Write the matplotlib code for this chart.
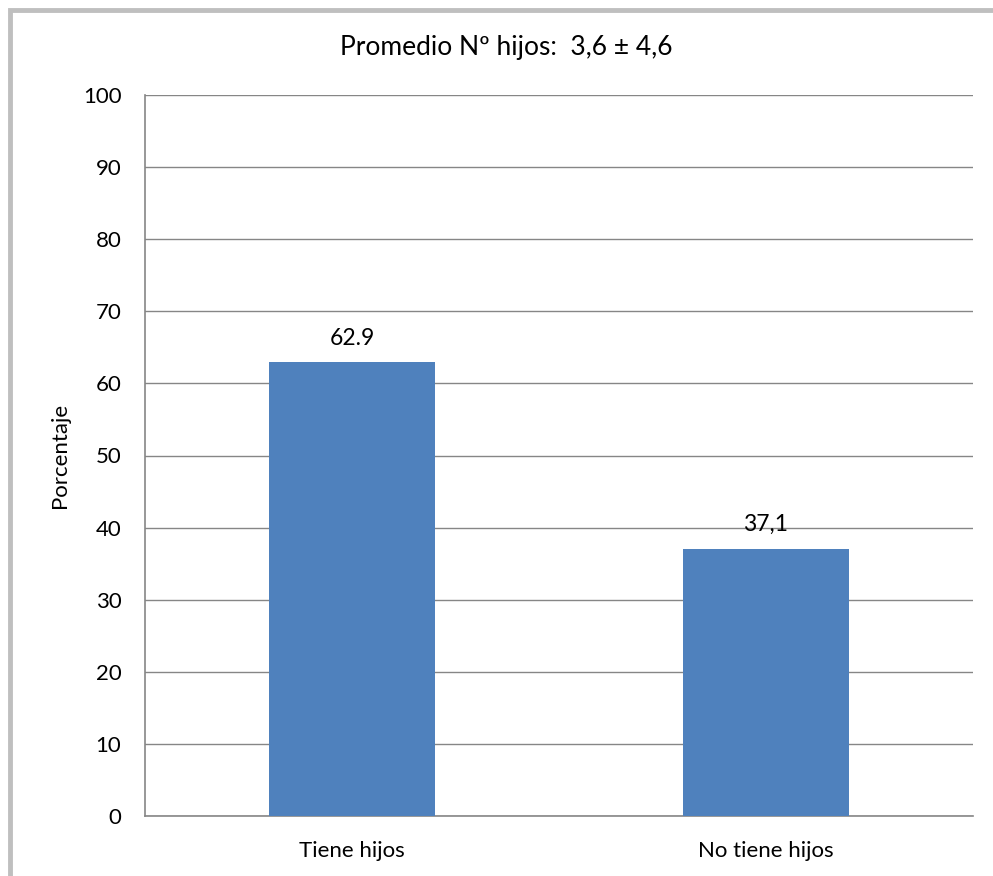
import matplotlib.pyplot as plt
from matplotlib.patches import Rectangle

categories = ["Tiene hijos", "No tiene hijos"]
percentages = [62.9, 37.1]
value_labels = ["62.9", "37,1"]
y_ticks = list(range(0, 101, 10))
title = "Promedio Nº hijos:  3,6 ± 4,6"

plt.rcParams['font.family'] = ['Lato', 'DejaVu Sans']

W, H = 993, 876
fig = plt.figure(figsize=(W / 100, H / 100), dpi=100)
ax = fig.add_axes([145 / W, 1 - 816 / H, (973 - 145) / W, (816 - 95) / H])

x = range(len(categories))
bars = ax.bar(x, percentages, width=0.4, color="#4F81BD", zorder=3)
for bar, lbl in zip(bars, value_labels):
    ax.annotate(lbl, (bar.get_x() + bar.get_width() / 2, bar.get_height()),
                xytext=(0, 10), textcoords="offset points",
                ha="center", va="bottom", fontsize=16.5)

ax.set_xlim(-0.5, 1.5)
ax.set_ylim(0, 100)
ax.set_yticks(y_ticks)
ax.set_xticks(list(x))
ax.set_xticklabels(categories, fontsize=16.5)
ax.tick_params(axis="both", length=0, labelsize=16)
ax.tick_params(axis="y", pad=17)
ax.tick_params(axis="x", pad=18)
ax.yaxis.grid(True, color="#868686", linewidth=1, zorder=0)
for side in ["top", "right"]:
    ax.spines[side].set_visible(False)
for side in ["left", "bottom"]:
    ax.spines[side].set_color("#868686")
    ax.spines[side].set_linewidth(1.2)
ax.set_ylabel("Porcentaje", fontsize=16)
ax.yaxis.set_label_coords(-0.09, 0.5)

fig.text(506 / W, 1 - 47 / H, title, ha="center", va="center", fontsize=19)

# outer frame, running off the right and bottom edges
fig.patches.append(Rectangle((10 / W, -0.05), 1.05, 1 - 10 / H + 0.05,
                             transform=fig.transFigure, fill=False,
                             edgecolor="#BFBFBF", linewidth=3.5))

fig.savefig("out.png", dpi=100)
